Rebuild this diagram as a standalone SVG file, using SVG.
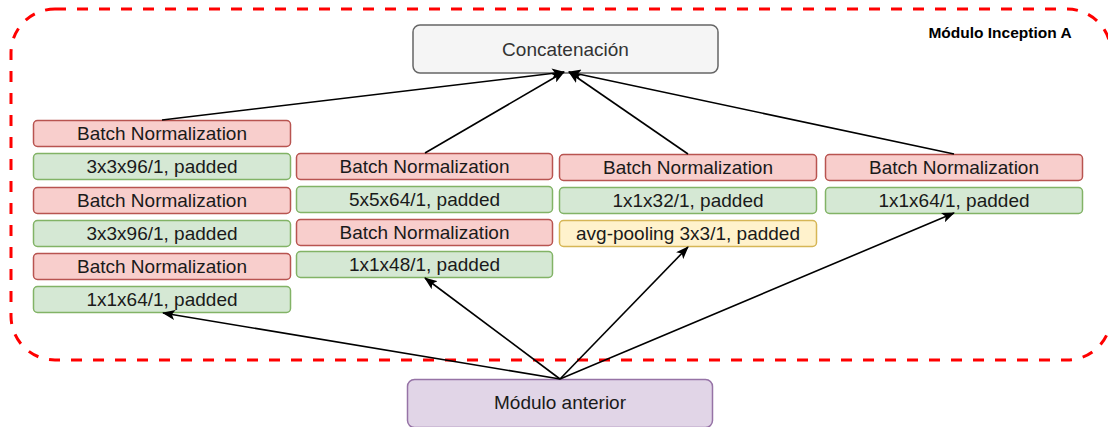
<svg xmlns="http://www.w3.org/2000/svg" width="1108" height="427" viewBox="0 0 1108 427">
  <defs>
    <marker id="arrow" viewBox="0 0 13 10" refX="12" refY="5" markerWidth="13" markerHeight="10" markerUnits="userSpaceOnUse" orient="auto">
      <path d="M0,0 L13,5 L0,10 L3,5 Z" fill="#000"/>
    </marker>
    <style>
      .lbl { font-family: "Liberation Sans", Arial, sans-serif; font-size: 19px; fill: #1a1a1a; text-anchor: middle; }
      .bn { fill: #f8cecc; stroke: #b85450; stroke-width: 1.5; }
      .conv { fill: #d5e8d4; stroke: #82b366; stroke-width: 1.5; }
      .pool { fill: #fff2cc; stroke: #d6b656; stroke-width: 1.5; }
      .edge { fill: none; stroke: #000; stroke-width: 1.6; marker-end: url(#arrow); }
    </style>
  </defs>
  <rect width="1108" height="427" fill="#fff"/>

  <!-- module boundary -->
  <g id="inception-a">
    <rect x="11" y="9" width="1100" height="351" rx="44" ry="44" fill="none" stroke="#ff0000" stroke-width="3" stroke-dasharray="11 11"/>
    <text x="1000" y="38" style="font-family: 'Liberation Sans', Arial, sans-serif; font-size: 15.5px; font-weight: bold; fill: #000; text-anchor: middle;">Módulo Inception A</text>
  </g>

  <g id="concat">
    <rect x="413" y="25" width="305" height="48" rx="7" fill="#f5f5f5" stroke="#666" stroke-width="1.5"/>
    <text class="lbl" x="565.5" y="55.5" style="fill:#333">Concatenación</text>
  </g>

  <!-- branch 1 -->
  <g id="b1-bn3">
    <rect class="bn" x="33.5" y="120.5" width="257" height="26" rx="4"/>
    <text class="lbl" x="162" y="140">Batch Normalization</text>
  </g>
  <g id="b1-conv3">
    <rect class="conv" x="33.5" y="153.5" width="257" height="26" rx="4"/>
    <text class="lbl" x="162" y="173">3x3x96/1, padded</text>
  </g>
  <g id="b1-bn2">
    <rect class="bn" x="33.5" y="187.5" width="257" height="26" rx="4"/>
    <text class="lbl" x="162" y="207">Batch Normalization</text>
  </g>
  <g id="b1-conv2">
    <rect class="conv" x="33.5" y="220.5" width="257" height="26" rx="4"/>
    <text class="lbl" x="162" y="240">3x3x96/1, padded</text>
  </g>
  <g id="b1-bn1">
    <rect class="bn" x="33.5" y="253.5" width="257" height="26" rx="4"/>
    <text class="lbl" x="162" y="273">Batch Normalization</text>
  </g>
  <g id="b1-conv1">
    <rect class="conv" x="33.5" y="286.5" width="257" height="26" rx="4"/>
    <text class="lbl" x="162" y="306">1x1x64/1, padded</text>
  </g>

  <!-- branch 2 -->
  <g id="b2-bn2">
    <rect class="bn" x="296.5" y="153.5" width="256" height="26" rx="4"/>
    <text class="lbl" x="424.5" y="173">Batch Normalization</text>
  </g>
  <g id="b2-conv2">
    <rect class="conv" x="296.5" y="186.5" width="256" height="26" rx="4"/>
    <text class="lbl" x="424.5" y="206">5x5x64/1, padded</text>
  </g>
  <g id="b2-bn1">
    <rect class="bn" x="296.5" y="219.5" width="256" height="26" rx="4"/>
    <text class="lbl" x="424.5" y="239">Batch Normalization</text>
  </g>
  <g id="b2-conv1">
    <rect class="conv" x="296.5" y="251.5" width="256" height="26" rx="4"/>
    <text class="lbl" x="424.5" y="271">1x1x48/1, padded</text>
  </g>

  <!-- branch 3 -->
  <g id="b3-bn">
    <rect class="bn" x="559.5" y="154.5" width="257" height="26" rx="4"/>
    <text class="lbl" x="688" y="174">Batch Normalization</text>
  </g>
  <g id="b3-conv">
    <rect class="conv" x="559.5" y="187.5" width="257" height="26" rx="4"/>
    <text class="lbl" x="688" y="207">1x1x32/1, padded</text>
  </g>
  <g id="b3-pool">
    <rect class="pool" x="559.5" y="220.5" width="257" height="26" rx="4"/>
    <text class="lbl" x="688" y="240">avg-pooling 3x3/1, padded</text>
  </g>

  <!-- branch 4 -->
  <g id="b4-bn">
    <rect class="bn" x="825.5" y="154.5" width="257" height="26" rx="4"/>
    <text class="lbl" x="954" y="174">Batch Normalization</text>
  </g>
  <g id="b4-conv">
    <rect class="conv" x="825.5" y="187.5" width="257" height="26" rx="4"/>
    <text class="lbl" x="954" y="207">1x1x64/1, padded</text>
  </g>

  <g id="prev">
    <rect x="407.5" y="379.5" width="305" height="48" rx="7" fill="#e1d5e7" stroke="#9673a6" stroke-width="1.5"/>
    <text class="lbl" x="560" y="409">Módulo anterior</text>
  </g>

  <!-- connectors -->
  <g id="connectors">
    <line class="edge" x1="560" y1="379" x2="163" y2="313"/>
    <line class="edge" x1="560" y1="379" x2="425" y2="278"/>
    <line class="edge" x1="560" y1="379" x2="688" y2="247"/>
    <line class="edge" x1="560" y1="379" x2="954" y2="213"/>
    <line class="edge" x1="162" y1="120" x2="564" y2="72"/>
    <line class="edge" x1="425" y1="153" x2="564" y2="72"/>
    <line class="edge" x1="688" y1="154" x2="569" y2="72"/>
    <line class="edge" x1="954" y1="154" x2="569" y2="72"/>
  </g>
</svg>
